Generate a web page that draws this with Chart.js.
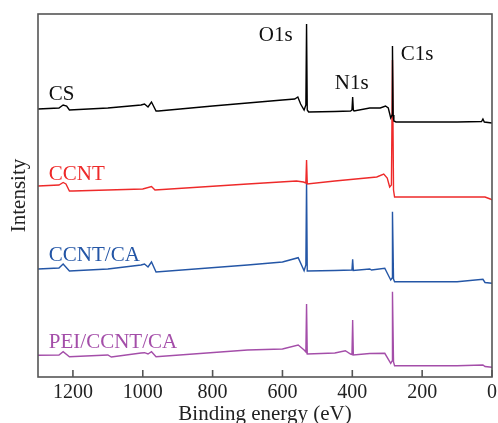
<!DOCTYPE html>
<html>
<head>
<meta charset="utf-8">
<script src="https://cdn.jsdelivr.net/npm/chart.js@4.4.0/dist/chart.umd.min.js"></script>
<style>
  html, body { margin: 0; padding: 0; background: #fff; }
  #wrap { width: 498px; height: 423px; }
</style>
</head>
<body>
<div id="wrap"><canvas id="xps"></canvas></div>
<script>
// 结合能 (eV) 与强度 (任意单位, 曲线已上下错开)
var csEnergy = [1300, 1240, 1228, 1218, 1210, 1100, 1005, 995, 985, 975, 962, 955, 800, 700, 600, 565, 556, 548, 538, 533, 531, 529, 525, 450, 405, 401, 399, 397, 395, 350, 320, 305, 297, 290, 286, 285, 283, 281, 275, 100, 30, 26, 22, 0];
var csIntensity = [268, 269, 272, 271, 267, 269, 272, 273, 270, 275, 266, 266, 271, 274, 277, 278, 280, 273, 267, 272, 353, 267, 265, 265.5, 266, 267, 280, 267, 266, 269, 269, 271, 269, 259, 262, 331, 262, 256, 255, 255, 255.5, 258, 255, 254];

var ccntEnergy = [1300, 1240, 1228, 1220, 1210, 1200, 1000, 975, 965, 700, 560, 540, 533, 531, 529, 450, 330, 310, 300, 293, 288, 285, 282, 279, 100, 20, 5, 0];
var ccntIntensity = [191, 192, 194.5, 193, 186, 186, 188, 190.5, 187, 193, 196, 195, 194, 217, 193, 196, 200, 203, 199, 190, 192, 317, 187, 180, 180, 180, 178, 177];

var ccntCaEnergy = [1300, 1240, 1228, 1210, 1100, 1005, 995, 985, 975, 962, 700, 600, 555, 538, 533, 531, 529, 450, 401, 399, 397, 350, 345, 307, 290, 286, 285, 282, 279, 100, 26, 20, 0];
var ccntCaIntensity = [108, 109, 113, 106, 108, 112, 113, 110, 115, 105, 112, 115, 119.3, 106.3, 112, 197, 106, 106.5, 107, 117.7, 106.5, 108, 107, 108.7, 97, 99, 165.3, 98, 95.3, 95.3, 97.7, 94.5, 93.7];

var peiEnergy = [1300, 1240, 1228, 1210, 1100, 1090, 1005, 995, 985, 975, 962, 700, 600, 555, 538, 533, 531, 529, 450, 420, 405, 401, 399, 397, 350, 307, 290, 286, 285, 282, 279, 100, 26, 20, 0];
var peiIntensity = [21.7, 22, 25.3, 20.3, 22, 20, 24, 24.3, 23, 25.3, 20.3, 27, 28, 32, 27, 25, 73, 23, 24, 26.3, 23, 22.5, 57, 22, 23.5, 23.7, 13.7, 16, 85.3, 15, 11.3, 11.3, 12, 10.5, 9.7];

var seriesNames = ['CS', 'CCNT', 'CCNT/CA', 'PEI/CCNT/CA'];
var seriesColors = ['#000000', '#ee2a2a', '#2456a6', '#a44ea9'];
var energyTicks = [0, 200, 400, 600, 800, 1000, 1200];

// 图中文字标注: [文字, 结合能, 强度, 颜色]
var peakLabels = [
    ['CS', 1269, 277, '#111111'],
    ['CCNT', 1269, 197, '#ee2a2a'],
    ['CCNT/CA', 1269, 116.3, '#2456a6'],
    ['PEI/CCNT/CA', 1269, 29.3, '#a44ea9'],
    ['O1s', 668, 336, '#111111'],
    ['N1s', 450, 288, '#111111'],
    ['C1s', 261, 317, '#111111']
];

var serif = "'Liberation Serif', 'DejaVu Serif', serif";
var frameColor = '#555555';

function toPoints(xs, ys) {
    return xs.map(function (x, i) { return { x: x, y: ys[i] }; });
}

var allEnergy = [csEnergy, ccntEnergy, ccntCaEnergy, peiEnergy];
var allIntensity = [csIntensity, ccntIntensity, ccntCaIntensity, peiIntensity];

var datasets = seriesNames.map(function (name, i) {
    return {
        label: name,
        data: toPoints(allEnergy[i], allIntensity[i]),
        borderColor: seriesColors[i],
        borderWidth: 1.4,
        pointRadius: 0,
        tension: 0,
        fill: false
    };
});

// 边框、内向刻度和文字标注
var decorPlugin = {
    id: 'decor',
    afterDatasetsDraw: function (chart) {
        var ctx = chart.ctx;
        var area = chart.chartArea;
        var xs = chart.scales.x;
        var ys = chart.scales.y;
        ctx.save();
        ctx.strokeStyle = frameColor;
        ctx.lineWidth = 1.6;
        ctx.strokeRect(area.left, area.top, area.right - area.left, area.bottom - area.top);
        energyTicks.forEach(function (v) {
            var px = xs.getPixelForValue(v);
            ctx.beginPath();
            ctx.moveTo(px, area.bottom);
            ctx.lineTo(px, area.bottom - 7);
            ctx.stroke();
        });
        ctx.font = '21px ' + serif;
        ctx.textAlign = 'left';
        ctx.textBaseline = 'alphabetic';
        peakLabels.forEach(function (l) {
            ctx.fillStyle = l[3];
            ctx.fillText(l[0], xs.getPixelForValue(l[1]), ys.getPixelForValue(l[2]));
        });
        ctx.restore();
    }
};

var ctx = document.getElementById('xps').getContext('2d');
var xpsChart = new Chart(ctx, {
    type: 'line',
    data: { datasets: datasets },
    options: {
        responsive: true,
        maintainAspectRatio: false,
        animation: false,
        layout: { padding: { top: 14, right: 6, left: 0, bottom: 0 } },
        plugins: { legend: { display: false }, tooltip: { enabled: false } },
        scales: {
            x: {
                type: 'linear',
                reverse: true,
                min: 0,
                max: 1300,
                afterBuildTicks: function (scale) {
                    scale.ticks = energyTicks.map(function (v) { return { value: v }; });
                },
                afterFit: function (scale) { scale.height = 46; },
                grid: { display: true, drawOnChartArea: false, drawTicks: false },
                border: { display: false },
                ticks: {
                    color: '#222',
                    font: { family: serif, size: 20 },
                    padding: 4,
                    maxRotation: 0,
                    callback: function (v) { return String(v); }
                },
                title: {
                    display: true,
                    text: 'Binding energy (eV)',
                    color: '#222',
                    font: { family: serif, size: 21 },
                    padding: { top: 0, bottom: -4 }
                }
            },
            y: {
                type: 'linear',
                min: 0,
                max: 363,
                afterFit: function (scale) { scale.width = 38; },
                grid: { display: false },
                border: { display: false },
                ticks: { display: false },
                title: {
                    display: true,
                    text: 'Intensity',
                    color: '#222',
                    font: { family: serif, size: 21 },
                    padding: { top: 7, bottom: 0 }
                }
            }
        }
    },
    plugins: [decorPlugin]
});
</script>
</body>
</html>
